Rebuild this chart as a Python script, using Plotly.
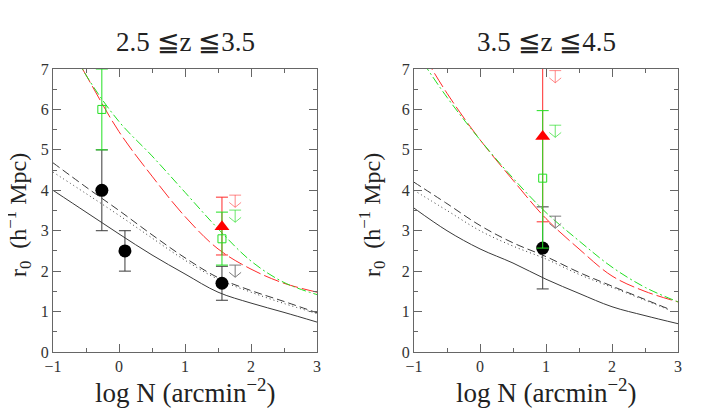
import plotly.graph_objects as go

# model curves, sampled in log N
logn = [-1, -0.5, 0, 0.5, 1, 1.5, 2, 2.5, 3]
logn_short = [-1, -0.5, 0, 0.5, 1, 1.5, 2, 2.5, 2.85]

# 2.5 <= z <= 3.5
lo_solid = [4.00, 3.46, 2.92, 2.40, 1.93, 1.48, 1.21, 0.98, 0.74]
lo_dash = [4.68, 4.08, 3.50, 2.90, 2.33, 1.84, 1.52, 1.25, 0.97]
lo_dot = [4.45, 3.92, 3.38, 2.82, 2.27, 1.80, 1.48, 1.20, 0.95]
lo_red = [8.30, 6.85, 5.45, 4.35, 3.35, 2.55, 2.05, 1.70, 1.48]
lo_green = [8.40, 6.85, 5.70, 4.85, 3.95, 3.05, 2.25, 1.72, 1.42]

lo_circ_x = [-0.26, 0.09, 1.56]
lo_circ_y = [4.0, 2.5, 1.7]
lo_circ_err = [1.0, 0.5, 0.42]
lo_sq_x = [-0.26, 1.56]
lo_sq_y = [6.0, 2.8]
lo_sq_up = [1.0, 0.66]
lo_sq_dn = [1.0, 0.65]
lo_tri_x = [1.56]
lo_tri_y = [3.1]
lo_tri_up = [0.73]
lo_tri_dn = [0.7]
lo_lim_x = 1.76
lo_lim = {"red": 3.88, "green": 3.51, "gray": 2.15}

# 3.5 <= z <= 4.5
hi_solid = [3.56, 3.00, 2.55, 2.20, 1.80, 1.45, 1.12, 0.90, 0.70]
hi_dash = [4.20, 3.67, 3.13, 2.70, 2.36, 1.97, 1.63, 1.30, 1.07]
hi_dot = [4.00, 3.50, 3.00, 2.62, 2.30, 1.92, 1.60, 1.28, 1.05]
hi_red = [7.75, 6.40, 5.25, 4.25, 3.30, 2.55, 1.88, 1.50, 1.24]
hi_green = [7.50, 6.30, 5.25, 4.30, 3.45, 2.75, 2.10, 1.60, 1.24]

hi_circ_x = [0.95]
hi_circ_y = [2.57]
hi_circ_up = [1.02]
hi_circ_dn = [1.01]
hi_sq_x = [0.95]
hi_sq_y = [4.3]
hi_sq_up = [1.67]
hi_sq_dn = [1.73]
hi_tri_x = [0.95]
hi_tri_y = [5.33]
hi_tri_up = [2.0]
hi_tri_dn = [2.11]
hi_lim_x = 1.14
hi_lim = {"red": 6.96, "green": 5.61, "gray": 3.36}

RED = "#ff2a2a"
GREEN = "#22e022"
BLACK = "#3a3a3a"
LIM_COL = {"red": "rgba(255,40,40,0.55)", "green": "rgba(30,220,30,0.65)", "gray": "#7a7a7a"}
FONT = "Liberation Serif"

fig = go.Figure()


def curves(xa, ya, x_full, x_short, solid, dash, dot, red, green):
    fig.add_trace(go.Scatter(x=x_full, y=solid, mode="lines", xaxis=xa, yaxis=ya,
                             line=dict(color=BLACK, width=1, shape="spline")))
    fig.add_trace(go.Scatter(x=x_short, y=dash, mode="lines", xaxis=xa, yaxis=ya,
                             line=dict(color=BLACK, width=1, dash="8px,4px", shape="spline")))
    fig.add_trace(go.Scatter(x=x_short, y=dot, mode="lines", xaxis=xa, yaxis=ya,
                             line=dict(color=BLACK, width=1, dash="1px,3px", shape="spline")))
    fig.add_trace(go.Scatter(x=x_full, y=red, mode="lines", xaxis=xa, yaxis=ya,
                             line=dict(color=RED, width=1, dash="16px,4px", shape="spline")))
    fig.add_trace(go.Scatter(x=x_full, y=green, mode="lines", xaxis=xa, yaxis=ya,
                             line=dict(color=GREEN, width=1, dash="9px,3px,2px,3px", shape="spline")))


def limits(xa, ya, x0, lims):
    for key, top in lims.items():
        tip = top - 0.3
        xs = [x0 - 0.09, x0 + 0.09, None, x0, x0, None, x0 - 0.09, x0, x0 + 0.09]
        ys = [top, top, None, top, tip, None, tip + 0.12, tip, tip + 0.12]
        fig.add_trace(go.Scatter(x=xs, y=ys, mode="lines", xaxis=xa, yaxis=ya,
                                 line=dict(color=LIM_COL[key], width=1)))


def points(xa, ya, cx, cy, cup, cdn, sx, sy, sup, sdn, tx, ty, tup, tdn):
    fig.add_trace(go.Scatter(x=cx, y=cy, mode="markers", xaxis=xa, yaxis=ya,
                             marker=dict(color="black", size=13),
                             error_y=dict(type="data", array=cup, arrayminus=cdn,
                                          color=BLACK, thickness=1, width=6)))
    fig.add_trace(go.Scatter(x=tx, y=ty, mode="markers", xaxis=xa, yaxis=ya,
                             marker=dict(color="rgba(0,0,0,0)", size=1),
                             error_y=dict(type="data", array=tup, arrayminus=tdn,
                                          color=RED, thickness=1, width=6)))
    fig.add_trace(go.Scatter(x=sx, y=sy, mode="markers", xaxis=xa, yaxis=ya,
                             marker=dict(symbol="square-open", color=GREEN, size=8,
                                         line=dict(width=1)),
                             error_y=dict(type="data", array=sup, arrayminus=sdn,
                                          color=GREEN, thickness=1, width=6)))
    fig.add_trace(go.Scatter(x=tx, y=ty, mode="markers", xaxis=xa, yaxis=ya,
                             marker=dict(symbol="triangle-up", color="red", size=13)))


curves("x", "y", logn, logn, lo_solid, lo_dash, lo_dot, lo_red, lo_green)
limits("x", "y", lo_lim_x, lo_lim)
points("x", "y", lo_circ_x, lo_circ_y, lo_circ_err, lo_circ_err,
       lo_sq_x, lo_sq_y, lo_sq_up, lo_sq_dn, lo_tri_x, lo_tri_y, lo_tri_up, lo_tri_dn)

curves("x2", "y2", logn, logn_short, hi_solid, hi_dash, hi_dot, hi_red, hi_green)
limits("x2", "y2", hi_lim_x, hi_lim)
points("x2", "y2", hi_circ_x, hi_circ_y, hi_circ_up, hi_circ_dn,
       hi_sq_x, hi_sq_y, hi_sq_up, hi_sq_dn, hi_tri_x, hi_tri_y, hi_tri_up, hi_tri_dn)

ax = dict(showline=True, linecolor="#666", linewidth=1, mirror="allticks",
          ticks="inside", ticklen=8, tickcolor="#666", showgrid=False, zeroline=False,
          tickfont=dict(family=FONT, size=16, color="#333"),
          minor=dict(ticks="inside", ticklen=4, tickcolor="#666", dtick=0.5))

# page body adds an 8px offset, so the figure is drawn 8px smaller
fig.update_layout(
    width=700, height=401,
    margin=dict(l=45, r=30, t=61, b=57),
    paper_bgcolor="white", plot_bgcolor="white",
    showlegend=False,
    xaxis=dict(ax, domain=[0, 0.4224], range=[-1, 3], dtick=1, anchor="y"),
    yaxis=dict(ax, domain=[0, 1], range=[0, 7], dtick=1, anchor="x"),
    xaxis2=dict(ax, domain=[0.5776, 1], range=[-1, 3], dtick=1, anchor="y2"),
    yaxis2=dict(ax, domain=[0, 1], range=[0, 7], dtick=1, anchor="x2"),
)

titles = ["2.5 \u2266z \u22663.5", "3.5 \u2266z \u22664.5"]
centers = [0.2112, 0.7888]
ytitle_x = [-0.0560, 0.5104]
for t, cx, yx in zip(titles, centers, ytitle_x):
    fig.add_annotation(text=t, x=cx, y=1.095, xref="paper", yref="paper",
                       xanchor="center", yanchor="middle", showarrow=False,
                       font=dict(family=FONT, size=27, color="#222"))
    fig.add_annotation(text="log N (arcmin<sup>\u22122</sup>)", x=cx, y=-0.138,
                       xref="paper", yref="paper", xanchor="center", yanchor="middle",
                       showarrow=False, font=dict(family=FONT, size=27, color="#222"))
    fig.add_annotation(text="r<sub>0</sub>  (h<sup>\u22121</sup> Mpc)", x=yx, y=0.484,
                       xref="paper", yref="paper", xanchor="center", yanchor="middle",
                       showarrow=False, textangle=-90,
                       font=dict(family=FONT, size=24, color="#222"))

fig.write_html("out.html")
